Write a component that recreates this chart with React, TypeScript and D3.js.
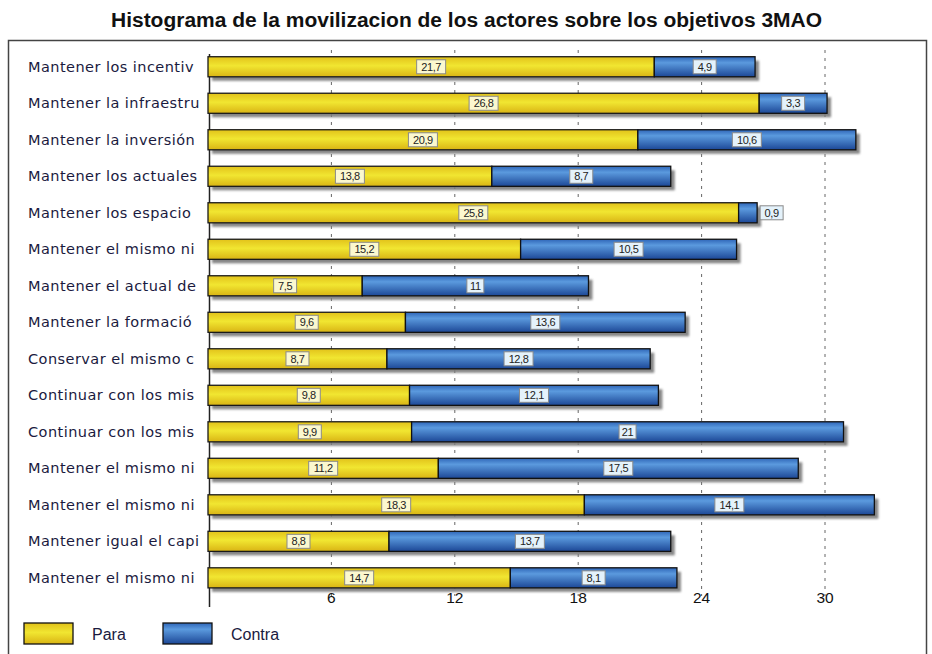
import { useEffect, useRef } from 'react';
import * as d3 from 'd3';

const categories = [
  'Mantener los incentiv',
  'Mantener la infraestru',
  'Mantener la inversión',
  'Mantener los actuales',
  'Mantener los espacio',
  'Mantener el mismo ni',
  'Mantener el actual de',
  'Mantener la formació',
  'Conservar el mismo c',
  'Continuar con los mis',
  'Continuar con los mis',
  'Mantener el mismo ni',
  'Mantener el mismo ni',
  'Mantener igual el capi',
  'Mantener el mismo ni',
];
const para = [21.7, 26.8, 20.9, 13.8, 25.8, 15.2, 7.5, 9.6, 8.7, 9.8, 9.9, 11.2, 18.3, 8.8, 14.7];
const contra = [4.9, 3.3, 10.6, 8.7, 0.9, 10.5, 11, 13.6, 12.8, 12.1, 21, 17.5, 14.1, 13.7, 8.1];
const xTicks = [6, 12, 18, 24, 30];
const seriesNames = ['Para', 'Contra'];

const W = 932;
const H = 654;

export default function App() {
  const svgRef = useRef<SVGSVGElement>(null);

  useEffect(() => {
    if (!svgRef.current) return;
    const svg = d3.select(svgRef.current);
    svg.selectAll('*').remove();

    const defs = svg.append('defs');
    const yel = defs.append('linearGradient').attr('id', 'gYel').attr('x1', 0).attr('y1', 0).attr('x2', 0).attr('y2', 1);
    yel.append('stop').attr('offset', '0%').attr('stop-color', '#e2c21a');
    yel.append('stop').attr('offset', '45%').attr('stop-color', '#f1e631');
    yel.append('stop').attr('offset', '100%').attr('stop-color', '#d9b414');
    const blu = defs.append('linearGradient').attr('id', 'gBlu').attr('x1', 0).attr('y1', 0).attr('x2', 0).attr('y2', 1);
    blu.append('stop').attr('offset', '0%').attr('stop-color', '#2f66b8');
    blu.append('stop').attr('offset', '30%').attr('stop-color', '#5b9ade');
    blu.append('stop').attr('offset', '100%').attr('stop-color', '#1c4796');
    defs.append('filter').attr('id', 'blur').append('feGaussianBlur').attr('stdDeviation', 1);

    // frame
    svg.append('rect')
      .attr('x', 8.5).attr('y', 40.5).attr('width', 918).attr('height', 630)
      .attr('fill', '#fff').attr('stroke', '#444').attr('stroke-width', 1.5);

    // title
    svg.append('text')
      .attr('x', 111).attr('y', 27)
      .attr('textLength', 711)
      .attr('lengthAdjust', 'spacingAndGlyphs')
      .attr('font-family', 'Liberation Sans, Arial, sans-serif')
      .attr('font-weight', 'bold')
      .attr('font-size', 19.5)
      .attr('fill', '#111')
      .text('Histograma de la movilizacion de los actores sobre los objetivos 3MAO');

    const x = d3.scaleLinear().domain([0, 30]).range([208, 825]);
    const y = d3.scaleBand<number>()
      .domain(categories.map((_, i) => i))
      .range([40.3, 604.3])
      .paddingInner(0.45)
      .paddingOuter(0.45);
    const bh = y.bandwidth();

    // dashed gridlines
    svg.append('g').selectAll('line')
      .data(xTicks)
      .enter()
      .append('line')
      .attr('x1', d => x(d)).attr('x2', d => x(d))
      .attr('y1', 50).attr('y2', 596)
      .attr('stroke', '#666').attr('stroke-width', 1)
      .attr('stroke-dasharray', '3,5');

    // axis line
    svg.append('line')
      .attr('x1', 209.5).attr('x2', 209.5).attr('y1', 54).attr('y2', 607)
      .attr('stroke', '#222').attr('stroke-width', 1.5);

    // category labels
    svg.append('g').selectAll('text')
      .data(categories)
      .enter()
      .append('text')
      .attr('x', 28)
      .attr('y', (_, i) => (y(i) || 0) + bh / 2 + 5)
      .attr('font-family', 'DejaVu Sans, Verdana, sans-serif')
      .attr('font-size', 14.5)
      .attr('letter-spacing', 0.45)
      .attr('fill', '#1a1a3e')
      .text(d => d);

    const rows = categories.map((_, i) => ({ i, p: para[i], c: contra[i] }));

    // shadows
    svg.append('g').selectAll('rect')
      .data(rows)
      .enter()
      .append('rect')
      .attr('x', x(0) + 4)
      .attr('y', d => (y(d.i) || 0) + 4)
      .attr('width', d => x(d.p + d.c) - x(0))
      .attr('height', bh)
      .attr('fill', '#7a7a7a')
      .attr('opacity', 0.9)
      .attr('filter', 'url(#blur)');

    const g = svg.append('g');
    // para segments
    g.selectAll('.para')
      .data(rows)
      .enter()
      .append('rect')
      .attr('x', x(0))
      .attr('y', d => y(d.i) || 0)
      .attr('width', d => x(d.p) - x(0))
      .attr('height', bh)
      .attr('fill', 'url(#gYel)')
      .attr('stroke', '#1a1a1a').attr('stroke-width', 1.3);
    // contra segments
    g.selectAll('.contra')
      .data(rows)
      .enter()
      .append('rect')
      .attr('x', d => x(d.p))
      .attr('y', d => y(d.i) || 0)
      .attr('width', d => x(d.p + d.c) - x(d.p))
      .attr('height', bh)
      .attr('fill', 'url(#gBlu)')
      .attr('stroke', '#111').attr('stroke-width', 1.3);

    const fmt = (v: number) => String(v).replace('.', ',');

    // value labels
    const addLabel = (cx: number, cy: number, v: number, fill: string, anchorLeft = false) => {
      const t = fmt(v);
      const w = t.length * 6 + 5;
      const bx = anchorLeft ? cx : cx - w / 2;
      svg.append('rect')
        .attr('x', bx).attr('y', cy - 7)
        .attr('width', w).attr('height', 14)
        .attr('fill', fill).attr('stroke', '#8a8a8a').attr('stroke-width', 1);
      svg.append('text')
        .attr('x', bx + w / 2).attr('y', cy + 4)
        .attr('text-anchor', 'middle')
        .attr('font-family', 'Liberation Sans, Arial, sans-serif')
        .attr('font-size', 11)
        .attr('letter-spacing', -0.4)
        .attr('fill', '#222')
        .text(t);
    };

    rows.forEach(d => {
      const cy = (y(d.i) || 0) + bh / 2;
      addLabel((x(0) + x(d.p)) / 2, cy, d.p, '#fbf8cf');
      const segW = x(d.p + d.c) - x(d.p);
      if (segW > 28) {
        addLabel((x(d.p) + x(d.p + d.c)) / 2, cy, d.c, '#e4f2fb');
      } else {
        addLabel(x(d.p + d.c) + 3, cy, d.c, '#e4f2fb', true);
      }
    });

    // tick labels
    svg.append('g').selectAll('text')
      .data(xTicks)
      .enter()
      .append('text')
      .attr('x', d => x(d))
      .attr('y', 603)
      .attr('text-anchor', 'middle')
      .attr('font-family', 'Liberation Sans, Arial, sans-serif')
      .attr('font-size', 15.5)
      .attr('fill', '#111')
      .text(d => d);

    // legend
    const legX = [24, 163];
    const legFill = ['url(#gYel)', 'url(#gBlu)'];
    seriesNames.forEach((name, i) => {
      svg.append('rect')
        .attr('x', legX[i]).attr('y', 623)
        .attr('width', 49).attr('height', 21)
        .attr('fill', legFill[i])
        .attr('stroke', '#111').attr('stroke-width', 1.3);
      svg.append('text')
        .attr('x', legX[i] + 68).attr('y', 640)
        .attr('font-family', 'Liberation Sans, Arial, sans-serif')
        .attr('font-size', 16)
        .attr('fill', '#1a1a3e')
        .text(name);
    });
  }, []);

  return (
    <svg
      ref={svgRef}
      width={W}
      height={H}
      style={{ display: 'block', position: 'absolute', left: 0, top: 0, background: '#fff' }}
    />
  );
}
